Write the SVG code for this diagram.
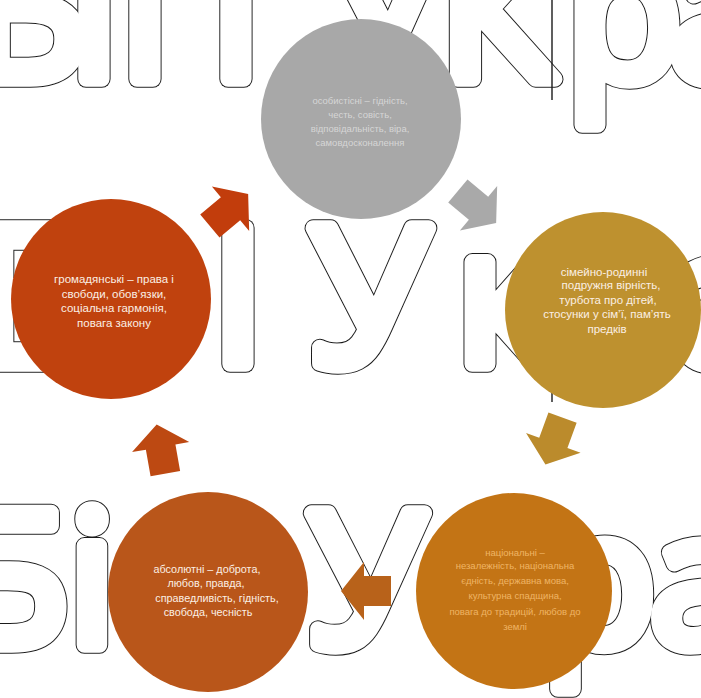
<svg xmlns="http://www.w3.org/2000/svg" xmlns:xlink="http://www.w3.org/1999/xlink" width="701" height="698" viewBox="0 0 701 698">
<style>
.bg{font-family:"Open Sans","DejaVu Sans",sans-serif;text-anchor:middle}
.outer{fill:none;stroke:#1a1a1a;stroke-width:17.5;stroke-linejoin:round}
.inner{fill:#ffffff;stroke:#ffffff;stroke-width:15.5;stroke-linejoin:round}
.t{font-family:"Liberation Sans","DejaVu Sans",sans-serif;text-anchor:middle;fill:#fbefe4}
.faint{font-family:"Liberation Sans","DejaVu Sans",sans-serif;text-anchor:middle}
</style>
<defs>
<path id="arr" d="M-25,-15 L2,-15 L2,-29 L25,0 L2,29 L2,15 L-25,15 Z"/>
<g id="letters" class="bg">
<g font-size="190">
<text x="28" y="79">Ь</text>
<text x="94" y="79">І</text>
<text x="145" y="79">І</text>
<text x="236" y="79">І</text>
<text x="384" y="79">У</text>
<text x="497" y="79">К</text>
<text x="624" y="79">р</text>
<text x="722" y="79">а</text>
<text x="24" y="364">Е</text>
<text x="238" y="364">І</text>
<text x="370" y="364">У</text>
<text x="505" y="364">к</text>
<text x="725" y="364">а</text>
</g>
<g font-size="186">
<text x="12" y="645">Б</text>
<text x="92" y="645">і</text>
<text x="367" y="645">У</text>
<text x="599" y="645">р</text>
<text x="702" y="645">а</text>
</g>
</g>
</defs>
<rect width="701" height="698" fill="#ffffff"/>
<g id="background-lettering">
<use xlink:href="#letters" href="#letters" class="outer"/>
<use xlink:href="#letters" href="#letters" class="inner"/>
<line x1="552" y1="0" x2="552" y2="100" stroke="#1a1a1a" stroke-width="1.4"/>
<line x1="552" y1="383" x2="552" y2="402" stroke="#1a1a1a" stroke-width="1.4"/>
</g>
<g id="connectors">
<use xlink:href="#arr" href="#arr" transform="translate(229,210) rotate(-40)" fill="#c23d0c"/>
<use xlink:href="#arr" href="#arr" transform="translate(477,207) rotate(40)" fill="#a9a9a9"/>
<use xlink:href="#arr" href="#arr" transform="translate(554,441) rotate(110)" fill="#bb8b2c"/>
<use xlink:href="#arr" href="#arr" transform="translate(366,591) rotate(180)" fill="#b8621a"/>
<use xlink:href="#arr" href="#arr" transform="translate(161,449) rotate(-100)" fill="#bd4912"/>
</g>
<g id="node-personal">
<circle cx="361" cy="119" r="100" fill="#a8a8a8"/>
<g class="faint" font-size="9.5" fill="#d6d6d6">
<text x="360" y="104">особистісні – гідність,</text>
<text x="360" y="118">честь, совість,</text>
<text x="360" y="132">відповідальність, віра,</text>
<text x="360" y="146">самовдосконалення</text>
</g>
</g>
<g id="node-civic">
<circle cx="111" cy="299" r="100" fill="#c0420e"/>
<g class="t" font-size="11.5">
<text x="114" y="283">громадянські – права і</text>
<text x="114" y="298">свободи, обов’язки,</text>
<text x="114" y="312">соціальна гармонія,</text>
<text x="114" y="327">повага закону</text>
</g>
</g>
<g id="node-family">
<circle cx="603" cy="310" r="98" fill="#be912f"/>
<g class="t" font-size="11.5">
<text x="604" y="276">сімейно-родинні</text>
<text x="611" y="289">подружня вірність,</text>
<text x="608" y="304">турбота про дітей,</text>
<text x="607" y="318">стосунки у сім’ї, пам’ять</text>
<text x="607" y="333">предків</text>
</g>
</g>
<g id="node-national">
<circle cx="514" cy="591" r="98" fill="#c37415"/>
<g class="faint" font-size="9.5" fill="#efb565">
<text x="515" y="556">національні –</text>
<text x="515" y="569">незалежність, національна</text>
<text x="515" y="584">єдність, державна мова,</text>
<text x="515" y="599">культурна спадщина,</text>
<text x="515" y="615">повага до традицій, любов до</text>
<text x="515" y="630">землі</text>
</g>
</g>
<g id="node-absolute">
<circle cx="208" cy="592" r="100" fill="#b9561a"/>
<g class="t" font-size="10.8">
<text x="207" y="573">абсолютні – доброта,</text>
<text x="206" y="587">любов, правда,</text>
<text x="217" y="602">справедливість, гідність,</text>
<text x="208" y="616">свобода, чесність</text>
</g>
</g>
</svg>
